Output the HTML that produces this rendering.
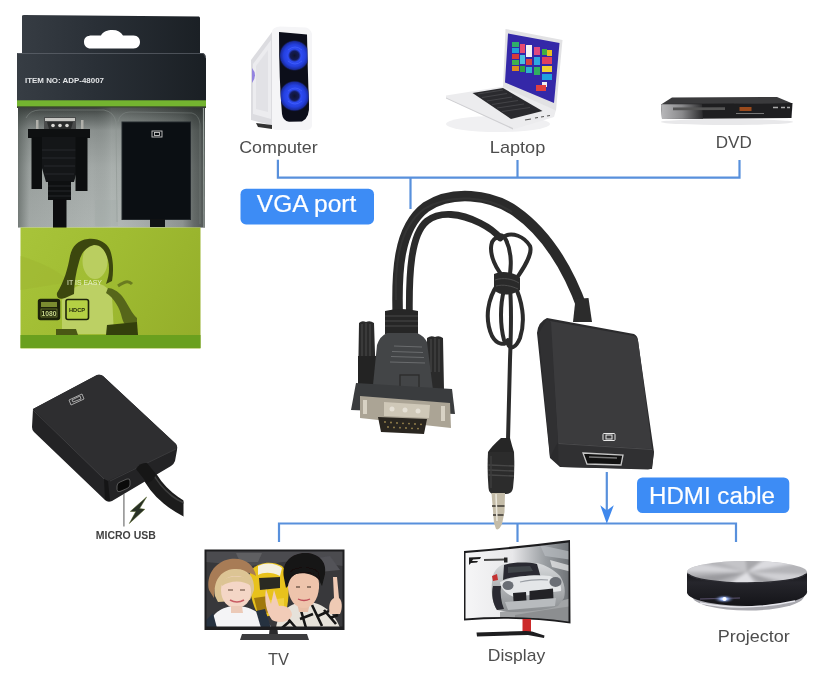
<!DOCTYPE html>
<html><head><meta charset="utf-8"><style>
html,body{margin:0;padding:0;background:#fff;width:834px;height:696px;overflow:hidden}
svg{display:block}
text{font-family:"Liberation Sans",sans-serif}
svg{will-change:transform}
</style></head><body>
<svg width="834" height="696" viewBox="0 0 834 696">
<defs>
<linearGradient id="pkgdark" gradientUnits="userSpaceOnUse" x1="17" y1="0" x2="206" y2="0">
<stop offset="0" stop-color="#373d44"/><stop offset="0.4" stop-color="#2a3037"/><stop offset="1" stop-color="#1a1f24"/>
</linearGradient>
<linearGradient id="blister" gradientUnits="userSpaceOnUse" x1="0" y1="106" x2="0" y2="228">
<stop offset="0" stop-color="#363a38"/><stop offset="0.08" stop-color="#5a605e"/><stop offset="0.2" stop-color="#8a908e"/><stop offset="0.5" stop-color="#a2a8a6"/><stop offset="1" stop-color="#aeb4b2"/>
</linearGradient>
<linearGradient id="blisterh" gradientUnits="userSpaceOnUse" x1="18" y1="0" x2="205" y2="0">
<stop offset="0" stop-color="#3a423e" stop-opacity="0.5"/><stop offset="0.06" stop-color="#3a423e" stop-opacity="0.1"/><stop offset="0.4" stop-color="#3a423e" stop-opacity="0"/><stop offset="0.5" stop-color="#d0d8d4" stop-opacity="0.15"/><stop offset="0.88" stop-color="#2a302e" stop-opacity="0.25"/><stop offset="0.94" stop-color="#2a302e" stop-opacity="0.55"/><stop offset="1" stop-color="#2a302e" stop-opacity="0.7"/>
</linearGradient>
<linearGradient id="greenband" gradientUnits="userSpaceOnUse" x1="20" y1="228" x2="200" y2="335">
<stop offset="0" stop-color="#a8c43a"/><stop offset="0.45" stop-color="#a0bc32"/><stop offset="1" stop-color="#94ae2a"/>
</linearGradient>
</defs>

<!-- ===== PACKAGE BOX ===== -->
<g id="box">
<!-- hanger -->
<path d="M22,16 Q22,15 24,15 L199,16.5 Q200,17 200,18 L200,56 L22,56 Z" fill="url(#pkgdark)"/>
<path d="M84,42 C84,37.5 87,35.5 92,35.5 L101,35.5 C103,31.5 107.5,30 112.5,30 C117.5,30 121,32 123,35.5 L133.5,35.5 C138,35.5 140,38.5 140,42 C140,45.5 138,48.5 133.5,48.5 L90.5,48.5 C87,48.5 84,46 84,42 Z" fill="#fff"/>
<!-- body top dark -->
<path d="M17,53 L203,53 Q206,54 206,59 L206,102 L17,102 Z" fill="url(#pkgdark)"/>
<path d="M17.5,53.5 L203,53.5 Q205.5,54.5 205.5,58" stroke="#6a7078" stroke-width="1" fill="none" opacity="0.6"/>
<!-- green stripe -->
<rect x="17" y="106" width="189" height="2" fill="#3a4a2c"/>
<rect x="17" y="100.3" width="189" height="6" fill="#74b430"/>
<!-- blister area -->
<rect x="18" y="107.5" width="187" height="120" fill="url(#blister)"/>
<rect x="18" y="107.5" width="187" height="120" fill="url(#blisterh)"/>
<path d="M26,118 Q30,110 40,110 L104,110 Q114,112 116,122 L117,222" fill="none" stroke="#8a928e" stroke-width="1" opacity="0.5"/>
<path d="M118,122 Q120,112 130,112 L192,113 Q199,115 200,124 L200,224" fill="none" stroke="#8a928e" stroke-width="1" opacity="0.4"/>
<path d="M203.5,108 L204,227" stroke="#9aa29e" stroke-width="1.2"/>
<path d="M95,200 L118,200 L118,226 L95,226 Z" fill="#a0a8a4" opacity="0.3"/>
<!-- VGA in package (upside down) -->
<path d="M44,117 L76,117 L76,131 L44,131 Z" fill="#4a4c4c"/>
<path d="M45,118 L75,118 L75,121 L45,121 Z" fill="#c8c8c4"/>
<path d="M47,122 L73,122 L71,129 L49,129 Z" fill="#2a2c2c"/>
<circle cx="53" cy="125.5" r="1.8" fill="#d8d8d4"/><circle cx="60" cy="125.5" r="1.8" fill="#d8d8d4"/><circle cx="67" cy="125.5" r="1.8" fill="#d8d8d4"/>
<rect x="36" y="120" width="2.5" height="11" fill="#b0b0aa"/><rect x="81" y="120" width="2.5" height="11" fill="#b0b0aa"/>
<path d="M28,129 L90,129 L90,138 L28,138 Z" fill="#0e1011"/>
<path d="M33,137 L86,137 L74,182 L46,182 Z" fill="#141618"/>
<path d="M40,150 L79,150 M42,158 L77,158 M44,166 L75,166 M45,174 L74,174" stroke="#26292c" stroke-width="1.2"/>
<rect x="31.5" y="137" width="10.5" height="52" fill="#0c0e0f"/>
<rect x="75.5" y="137" width="12" height="54" fill="#0c0e0f"/>
<rect x="48" y="181" width="23" height="19" fill="#0e1011"/>
<path d="M48,186 L71,186 M48,191 L71,191 M48,196 L71,196" stroke="#24272a" stroke-width="1"/>
<rect x="53" y="199" width="13.5" height="29" fill="#0c0c0e"/>
<!-- HDMI box in package -->
<rect x="122" y="122" width="68.5" height="97.5" fill="#0b0f13"/>
<rect x="122" y="122" width="68.5" height="97.5" fill="none" stroke="#23282c" stroke-width="1"/>
<g fill="none" stroke="#c8c8c8" stroke-width="0.9"><rect x="152" y="131" width="10" height="6"/><rect x="154.5" y="132.5" width="5" height="3"/></g>
<rect x="150" y="219" width="15" height="8" fill="#101214"/>
<!-- green lower -->
<rect x="20.5" y="227.5" width="180" height="121" fill="url(#greenband)"/>
<rect x="20.5" y="335" width="180" height="13" fill="#6aa01e"/>
<!-- lady -->
<g id="lady">
<path d="M20.5,256 C40,262 58,270 70,282 L20.5,290 Z" fill="#9db330" opacity="0.45"/>
<path d="M62,300 C66,290 78,284 92,283 C104,283 110,289 112,296 L114,334 L62,334 Z" fill="#bcd064"/>
<ellipse cx="95" cy="261" rx="12.5" ry="18" fill="#bace60"/>
<path d="M88,239 C78,240 72,246 70,256 C68,268 64,282 57,293 C56,298 60,300 65,298 L74,294 C74,284 76,272 79,262 C81,253 86,247 94,245 C102,245 106,252 108,260 C110,268 109,276 106,284 L112,281 C114,270 113,258 110,250 C106,242 98,238 88,239 Z" fill="#3c470e"/>
<path d="M106,293 C114,298 120,308 122,318 C124,326 130,330 137,328 L137,318 C132,314 128,304 122,296 C118,291 112,288 108,288 Z" fill="#56661a"/>
<path d="M107,325 L137,322 L138,335 L106,335 Z" fill="#34400c"/>
<path d="M56,329 L76,329 L78,335 L56,335 Z" fill="#4a5814"/>
<path d="M118,286 C124,282 128,280 132,284" stroke="#6a7c20" stroke-width="3" fill="none"/>
</g>
<text x="67" y="285" font-size="6.5" fill="#e6eec8" textLength="35" lengthAdjust="spacingAndGlyphs">IT IS EASY</text>
<!-- logos -->
<rect x="38.5" y="299.5" width="21" height="20" rx="2" fill="#1e240a" stroke="#1e240a" stroke-width="1.4"/>
<rect x="41" y="302" width="16" height="5" fill="#7a8c30"/>
<rect x="41" y="309" width="16" height="8" fill="#1e240a" stroke="#8a9c40" stroke-width="0.6"/>
<text x="41.5" y="316" font-size="7.5" font-weight="bold" fill="#c8d88a" textLength="15" lengthAdjust="spacingAndGlyphs">1080</text>
<rect x="66" y="299.5" width="22.5" height="20" rx="2" fill="#b4d044" stroke="#1e240a" stroke-width="1.6"/>
<text x="69" y="312" font-size="5.5" font-weight="bold" fill="#1e240a" textLength="16" lengthAdjust="spacingAndGlyphs">HDCP</text>
<!-- item text -->
<text x="25" y="83.2" font-size="8" font-weight="bold" fill="#e4e6e8" textLength="79" lengthAdjust="spacingAndGlyphs">ITEM NO: ADP-48007</text>
</g>

<!-- ===== BLUE LINES ===== -->
<g stroke="#5890dc" stroke-width="2.2" fill="none">
<path d="M277.9,159.7 V177.6 H739.5 V160"/>
<path d="M517.5,160 V177.5"/>
<path d="M410.5,177.5 V209"/>
<path d="M279,542 V523.5 H736 V542"/>
<path d="M517.5,523.5 V542"/>
<path d="M606.8,472 V512"/>
</g>
<path d="M600.3,505.3 L606.8,523.8 L613.8,505.3 L606.8,510.5 Z" fill="#3f88ec"/>

<!-- ===== MAIN CABLE PRODUCT ===== -->
<g id="product">
<!-- thick cable -->
<path d="M398,322 C396,272 398,228 426,207 C452,190 490,194 515,211 C545,232 568,268 583,310" fill="none" stroke="#2a2a2a" stroke-width="10.5" stroke-linecap="round"/>
<path d="M396,300 C395,262 399,228 424,209 C450,193 488,196 512,212" fill="none" stroke="#3a3a3a" stroke-width="2" opacity="0.6"/>
<!-- thin cable -->
<path d="M409.5,322 C408.5,272 411,234 427,221 C440,211 460,213 480,223 C490,228 496,233 500,238" fill="none" stroke="#2a2a2a" stroke-width="6.8" stroke-linecap="round"/>
<!-- loops & knot -->
<g fill="none" stroke="#2b2b2b" stroke-width="4" stroke-linecap="round">
<path d="M500,238 C490,236 489,250 494,262 C498,272 504,278 508,282"/>
<path d="M508,282 C512,270 512,252 506,240 C503,234 498,234 496,238"/>
<path d="M505,236 C512,232 524,236 530,246 C533,254 524,268 514,282"/>
<path d="M498,284 C488,298 484,318 492,336 C497,345 505,346 508,340"/>
<path d="M514,284 C522,300 526,320 520,338 C516,348 510,350 508,344"/>
<path d="M504,290 C500,305 500,325 504,340"/>
<path d="M510,288 C512,310 511,330 510,360 L508,440"/>
</g>
<path d="M494,274 C502,270 514,272 520,278 L520,290 C512,296 500,296 494,290 Z" fill="#2a2a2a"/>
<path d="M495,280 C503,277 513,279 519,283 M496,286 C503,284 512,286 518,289" stroke="#555" stroke-width="0.8" fill="none"/>

<!-- HDMI adapter box -->
<path d="M575.5,299 L588.5,298 L592,322 L573,322 Z" fill="#2c2c2c"/>
<path d="M547,318 L634,334 Q638,336 638,341 L654,452 L652,469 L560,467 L550,458 L537,333 Q538,322 547,318 Z" fill="#2b2b2d"/>
<path d="M550,321 L634,336 Q638,337.5 638.3,342 L652,449 L558,443 Z" fill="#3b3b3d"/>
<path d="M547,319 L551,322 L558,442 L550,457 L539,333 Z" fill="#303032"/>
<path d="M558,443 L652,449 Q654,451 653.5,455 L652,467 Q651,469.5 648,469.5 L562,467 Q559,466 558.5,463 Z" fill="#303032"/>
<path d="M558.5,443.5 L652,449.5" stroke="#4a4a4c" stroke-width="1"/>
<path d="M583,453 L623,455 L621,465 L587,464 Z" fill="#111" stroke="#c8c8c8" stroke-width="1.3"/>
<path d="M589,457 L617,458" stroke="#777" stroke-width="1.5"/>
<g fill="none" stroke="#e8e8e8" stroke-width="1">
<rect x="603" y="433.5" width="12" height="7" rx="1"/>
<rect x="606" y="435" width="6" height="4"/>
</g>

<!-- VGA connector -->
<g id="vga">
<!-- thumbscrews -->
<path d="M359,323 Q362,320 366,322 Q370,320 374,323 L376,384 L358,384 Z" fill="#2a2a2a"/>
<path d="M362,324 L362,356 M366,323 L366,356 M370,324 L370,356" stroke="#474747" stroke-width="1.2"/>
<path d="M358,356 L376,356 L376,386 L358,386 Z" fill="#232323"/>
<path d="M427,338 Q431,335 435,337 Q439,335 443,338 L444,390 L427,390 Z" fill="#2a2a2a"/>
<path d="M431,339 L431,372 M435,338 L435,372 M439,339 L439,372" stroke="#474747" stroke-width="1.2"/>
<!-- strain relief -->
<path d="M385,311 Q401,307 418,311 L418,334 L385,334 Z" fill="#262626"/>
<path d="M385,316 L418,316 M385,321 L418,321 M385,326 L418,326" stroke="#3e3e3e" stroke-width="1.6"/>
<!-- hood -->
<path d="M387,333 L417,333 Q424,336 427,342 L433,390 L373,385 L377,345 Q380,336 387,333 Z" fill="#434547"/>
<path d="M394,346 L422,347 M392,351.5 L423,352.5 M391,356.5 L424,357.5 M390,362 L425,363" stroke="#6a6c6e" stroke-width="1"/>
<rect x="400" y="375" width="19" height="15" fill="none" stroke="#2c2c2c" stroke-width="1.3"/>
<!-- base flange -->
<path d="M356,383 L452,389 L455,414 L351,410 Z" fill="#3a3c3e"/>
<!-- metal plate -->
<path d="M360,396 L450,403 L451,428 L360,418 Z" fill="#aba495"/>
<path d="M384,402 L430,405 L429,418 L384,416 Z" fill="#cfc8b8"/>
<circle cx="392" cy="409" r="2.5" fill="#e6e1d6"/><circle cx="405" cy="410" r="2.5" fill="#e6e1d6"/><circle cx="418" cy="411" r="2.5" fill="#e6e1d6"/>
<!-- d-sub -->
<path d="M378,417 L427,419 L424,434 L381,432 Z" fill="#2a2620"/>
<g fill="#a08a50"><circle cx="385" cy="422" r="0.9"/><circle cx="391" cy="422.5" r="0.9"/><circle cx="397" cy="423" r="0.9"/><circle cx="403" cy="423.3" r="0.9"/><circle cx="409" cy="423.6" r="0.9"/><circle cx="415" cy="424" r="0.9"/><circle cx="421" cy="424.3" r="0.9"/>
<circle cx="388" cy="427" r="0.9"/><circle cx="394" cy="427.4" r="0.9"/><circle cx="400" cy="427.7" r="0.9"/><circle cx="406" cy="428" r="0.9"/><circle cx="412" cy="428.3" r="0.9"/><circle cx="418" cy="428.6" r="0.9"/></g>
<!-- screw posts -->
<rect x="363" y="400" width="4" height="14" fill="#d8d2c4"/>
<rect x="441" y="406" width="4" height="15" fill="#d8d2c4"/>
</g>

<!-- Audio jack -->
<g id="jack">
<path d="M501,438 L510,438 Q512,446 514,452 L488,452 Q492,446 501,438 Z" fill="#262626"/>
<path d="M488,452 L514,452 Q515,472 513,488 Q512,494 506,494 L494,494 Q489,494 488.5,488 Q487,470 488,452 Z" fill="#2c2c2c"/>
<path d="M488.5,465 L514,466 M488.5,470 L514,471 M488.5,475 L514,476" stroke="#474747" stroke-width="1.4"/>
<path d="M491,456 L491,488" stroke="#3c3c3c" stroke-width="1.5"/>
<path d="M491.5,493 L505,493 L504.5,512 L502,524 Q499,531 496,529 L494,523 Z" fill="#c4bca8"/>
<path d="M492,506 L504.5,506 M493,515 L503.5,515" stroke="#3a3630" stroke-width="1.6"/>
<path d="M496,494 L497,521" stroke="#ece8dd" stroke-width="1.5"/>
</g>
</g>

<!-- ===== COMPUTER ===== -->
<g id="pc">
<defs>
<radialGradient id="fan" cx="0.5" cy="0.5" r="0.5"><stop offset="0" stop-color="#10142c"/><stop offset="0.28" stop-color="#141c58"/><stop offset="0.42" stop-color="#2e4cf4"/><stop offset="0.7" stop-color="#2440e0"/><stop offset="0.9" stop-color="#1a2ca0"/><stop offset="1" stop-color="#101430" stop-opacity="0.3"/></radialGradient>
</defs>
<path d="M251,60 L272,32 L274,32 L274,126 L251,120 Z" fill="#dcdce0"/>
<path d="M253,64 L271,40 L271,119 L253,114 Z" fill="#ececef"/>
<path d="M256,66 L268,50 L268,112 L256,109 Z" fill="#e2e2e6"/>
<path d="M252,68 Q258,75 252,83 Z" fill="#9484e0"/>
<path d="M272,31 Q273,27 280,26.5 L306,27.5 Q311,29 312,34 L312,126 Q311,130 306,130 L277,130 Q272,130 272,126 Z" fill="#f5f5f7"/>
<path d="M279,32 L307,34.5 Q308,80 309,104 Q310,118 302,121.5 L289,121.7 Q283,121 282,114 Q279,80 279,32 Z" fill="#0c0e1a"/>
<clipPath id="glassclip"><path d="M279,32 L307,34.5 Q308,80 309,104 Q310,118 302,121.5 L289,121.7 Q283,121 282,114 Q279,80 279,32 Z"/></clipPath>
<g clip-path="url(#glassclip)"><circle cx="294.5" cy="55.5" r="15.5" fill="url(#fan)"/>
<circle cx="294.5" cy="96" r="15.5" fill="url(#fan)"/></g>
<path d="M288,50 Q295,44 302,50 M302,61 Q295,67 288,61" stroke="#4a66ff" stroke-width="1" fill="none" opacity="0.6"/>
<path d="M288,91 Q295,85 302,91 M302,101 Q295,107 288,101" stroke="#4a66ff" stroke-width="1" fill="none" opacity="0.6"/>
<path d="M256,123 L272,125 L272,129 L258,127 Z" fill="#333"/>
</g>

<!-- ===== LAPTOP ===== -->
<g id="laptop">
<ellipse cx="498" cy="124" rx="52" ry="8" fill="#f0f0f2"/>
<path d="M446,95.5 L503,86.5 L556,110 L554,117 L513,129.5 L446,98 Z" fill="#ececee"/>
<path d="M446,97.5 L513,128 L513,129.5 L446,98.5 Z" fill="#cfcfd2"/>
<path d="M472.5,93 L503,88 L542.5,111 L511,119 Z" fill="#2a2a2e"/>
<path d="M478,94 L503,90 M482,97.5 L507,93.5 M487,101 L512,97 M492,104.5 L518,100.5 M497,108 L524,104 M502,111.5 L530,107.5" stroke="#4a4a4e" stroke-width="0.8"/>
<path d="M505.5,29 L562.5,40 L556,110.5 L503,87 Z" fill="#e2e2e4"/>
<path d="M508,33.5 L559.5,43 L554,103 L505,82.5 Z" fill="#3428a8"/>
<g>
<rect x="512" y="42" width="7" height="5" fill="#2fb06a"/><rect x="512" y="48" width="7" height="5" fill="#22a0d8"/><rect x="512" y="54" width="7" height="5" fill="#d83a3a"/><rect x="512" y="60" width="7" height="5" fill="#40b050"/><rect x="512" y="66" width="7" height="5" fill="#e08a20"/>
<rect x="520" y="44" width="5" height="9" fill="#e84a70"/><rect x="520" y="55" width="5" height="9" fill="#4ac0e0"/><rect x="520" y="66" width="5" height="6" fill="#30a040"/>
<rect x="526" y="45" width="6" height="12" fill="#f4f4f4"/><rect x="526" y="59" width="6" height="6" fill="#d84040"/><rect x="526" y="67" width="6" height="6" fill="#30b0d0"/>
<rect x="534" y="47" width="6" height="8" fill="#e04a80"/><rect x="534" y="57" width="6" height="8" fill="#30a8e0"/><rect x="534" y="67" width="6" height="8" fill="#30b060"/>
<rect x="542" y="49" width="5" height="6" fill="#40b040"/><rect x="547" y="50" width="5" height="6" fill="#e8c020"/><rect x="542" y="57" width="10" height="7" fill="#e04060"/><rect x="542" y="66" width="10" height="6" fill="#f0d030"/><rect x="542" y="74" width="10" height="6" fill="#20a0e0"/><rect x="542" y="82" width="5" height="5" fill="#f0f0f0"/><rect x="536" y="85" width="10" height="6" fill="#e04040"/>
</g>
<path d="M525,120 L531,119 M535,118 L538,117.5 M541,117 L544,116.5 M547,116 L550,115.5" stroke="#555" stroke-width="1.2"/>
</g>

<!-- ===== DVD ===== -->
<g id="dvd">
<ellipse cx="727" cy="122" rx="66" ry="3" fill="#e8e8ea"/>
<path d="M672,97.5 L777,97 L792.5,103.5 L661,104.5 Z" fill="#3a3a3c"/>
<path d="M661,104 L792.5,103 L791.5,118 L662,119 Z" fill="#1e1e20"/>
<defs><linearGradient id="dvdl" x1="0" x2="1"><stop offset="0" stop-color="#b8b8ba"/><stop offset="0.5" stop-color="#8a8a8c"/><stop offset="1" stop-color="#2a2a2c"/></linearGradient></defs>
<path d="M661,104.3 L702,104.2 L703,118.7 L662,119 Z" fill="url(#dvdl)"/>
<path d="M673,107.5 L725,107.2 L725,110 L673,110.3 Z" fill="#555"/>
<rect x="739.5" y="107" width="12" height="4" fill="#9a4a1c"/>
<path d="M773,107.5 L778,107.5 M781,107.5 L785,107.5 M787,107.5 L790,107.5" stroke="#aaa" stroke-width="1.3"/>
<path d="M736,113.5 L764,113.5" stroke="#777" stroke-width="1"/>
</g>

<!-- ===== TV ===== -->
<g id="tv">
<rect x="204.5" y="549.5" width="140" height="80.5" fill="#1e1e20"/>
<clipPath id="tvclip"><rect x="206.5" y="551.5" width="136" height="75"/></clipPath>
<g clip-path="url(#tvclip)"><g filter="url(#soft06)">
<rect x="206" y="551" width="137" height="76" fill="#38383a"/>
<path d="M206,551 L343,551 L343,566 L300,560 L250,566 L206,562 Z" fill="#4c4c50"/>
<path d="M236,553 L262,553 L258,562 L240,562 Z" fill="#6a6a6e" opacity="0.6"/>
<path d="M306,560 L330,556 L340,570 L320,572 Z" fill="#525258"/>
<!-- car yellow -->
<path d="M250,572 C256,562 272,560 282,566 C290,574 290,596 286,612 L260,618 C252,606 248,588 250,572 Z" fill="#e8c21e"/>
<path d="M258,566 C266,562 276,563 282,568 L280,576 C272,572 264,572 258,575 Z" fill="#f4f0e0"/>
<path d="M259,578 L280,577 L280,588 L260,590 Z" fill="#2c2a22"/>
<path d="M254,598 L268,596 L272,612 L258,614 Z" fill="#a07810"/>
<path d="M270,600 L284,598 L284,610 L272,612 Z" fill="#f2d040"/>
<!-- left person -->
<path d="M208,628 C210,614 222,606 236,606 C252,606 262,614 272,628 Z" fill="#f4f4f6"/>
<path d="M256,611 L265,609 L271,628 L261,628 Z" fill="#283040"/>
<path d="M206,620 L213,613 L217,628 L206,628 Z" fill="#283040"/>
<path d="M209,590 C206,576 214,562 230,559 C244,557 254,564 256,576 C250,572 238,570 226,574 C218,578 214,586 214,598 Z" fill="#a87c56"/>
<path d="M215,596 C213,582 220,570 234,569 C247,568 255,576 254,590 L250,600 L218,602 Z" fill="#dcc494"/>
<path d="M221,590 C221,580 228,576 236,576 C245,576 251,582 251,592 C251,601 245,608 236,608 C228,608 221,601 221,590 Z" fill="#f4d6c6"/>
<path d="M221,582 C226,576 240,574 250,580 L251,586 C244,580 230,580 222,586 Z" fill="#dcc494"/>
<path d="M230,600 Q237,604 244,600" stroke="#c85c64" stroke-width="1.6" fill="none"/>
<path d="M228,590 L233,590 M240,590 L245,590" stroke="#5a4030" stroke-width="1"/>
<path d="M231,606 L242,606 L243,613 L231,613 Z" fill="#eccab8"/>
<!-- right person -->
<path d="M276,628 C278,612 290,602 306,602 C322,602 334,612 340,628 Z" fill="#e6e2da"/>
<path d="M284,614 L296,628 M300,607 L306,628 M312,605 L322,626 M324,610 L336,624 M290,621 L282,628 M318,616 L329,611 M300,619 L313,614 M330,618 L338,615" stroke="#141414" stroke-width="2.6"/>
<path d="M297,602 L310,602 L308,612 L299,612 Z" fill="#e8bea6"/>
<path d="M288,588 C287,576 294,568 304,568 C314,568 320,576 319,588 C318,600 312,608 304,608 C295,608 289,600 288,588 Z" fill="#eec4ac"/>
<path d="M284,578 C281,562 292,553 305,553 C318,553 327,561 325,574 L322,586 L319,580 C314,574 304,572 296,574 C292,576 289,580 288,586 L286,588 Z" fill="#161212"/>
<path d="M290,578 C296,572 306,571 314,574 L320,580 L318,572 C312,566 296,566 290,572 Z" fill="#161212"/>
<path d="M298,599 Q304,602 310,599" stroke="#c0505a" stroke-width="1.3" fill="none"/>
<path d="M296,587 L300,587 M307,587 L311,587" stroke="#3a2a20" stroke-width="1"/>
<!-- peace hand -->
<path d="M266,589 L271,604 L274,590 L279,606 C286,605 292,609 292,615 C290,622 280,624 272,620 C266,612 264,600 266,589 Z" fill="#f2ccb8"/>
<!-- index finger -->
<path d="M333,577 L337,577 L339,598 C342,600 343,608 340,614 L330,614 C328,606 330,600 334,598 Z" fill="#efcab4"/>
</g></g>
<path d="M269.5,630 L277.5,630 L278,634.5 L269,634.5 Z" fill="#2a2a2c"/>
<path d="M242,634 L307,634 L309,640 L240,640 Z" fill="#3c3c3e"/>
</g>

<!-- ===== DISPLAY ===== -->
<g id="display">
<defs>
<linearGradient id="dispbg" x1="0" x2="1" y1="0" y2="0"><stop offset="0" stop-color="#f6f6f7"/><stop offset="0.45" stop-color="#e8e8ea"/><stop offset="0.75" stop-color="#9a9ea2"/><stop offset="1" stop-color="#6a6e72"/></linearGradient>
<linearGradient id="carbody" x1="0" x2="0" y1="0" y2="1"><stop offset="0" stop-color="#d8dadc"/><stop offset="0.5" stop-color="#b0b3b6"/><stop offset="1" stop-color="#8a8d90"/></linearGradient>
</defs>
<path d="M464,551 Q516,547 570,540 L570.5,623.5 Q516,616 464,620.5 Z" fill="#1c1c1e"/>
<clipPath id="dclip"><path d="M465.5,553 Q516,549 568.5,542.5 L568.5,621.5 Q516,614.5 465.5,618.5 Z"/></clipPath>
<g clip-path="url(#dclip)"><g filter="url(#soft06)">
<rect x="464" y="540" width="108" height="84" fill="url(#dispbg)"/>
<path d="M540,545 L572,552 L572,560 L545,556 Z" fill="#b8bcc0" opacity="0.7"/>
<path d="M550,560 L572,566 L572,572 L552,567 Z" fill="#ffffff" opacity="0.6"/>
<path d="M500,612 L540,606 L572,598 L572,624 L500,624 Z" fill="#a2a4a6"/>
<path d="M515,615 L545,610 L572,606 L572,624 L515,624 Z" fill="#8c8e90"/>
<!-- car -->
<path d="M492,582 C492,572 498,566 504,564 L537,563 C546,565 554,570 560,576 C564,582 566,590 564,598 L558,606 C546,610 528,612 510,612 L497,610 C492,602 491,592 492,582 Z" fill="url(#carbody)"/>
<path d="M504,565 C512,562 528,562 537,564 L541,578 C528,575 514,576 503,580 Z" fill="#2a2c30"/>
<path d="M508,567 L530,566 L533,571 L508,573 Z" fill="#4a4e56" opacity="0.7"/>
<path d="M500,582 C512,577 532,574 550,576 C558,579 562,585 561,591 L514,597 C506,594 501,589 500,582 Z" fill="#e4e6e8"/>
<path d="M520,582 C530,580 540,579 548,580" stroke="#9a9ea4" stroke-width="1.2" fill="none"/>
<ellipse cx="508" cy="585.5" rx="5.5" ry="4.5" fill="#6a6e74"/>
<ellipse cx="555.5" cy="582" rx="6" ry="5" fill="#6a6e74"/>
<path d="M513,593 L526,592 L526.5,601 L513.5,601.5 Z" fill="#222428"/>
<path d="M529.5,591 L553,588.5 L553.5,599 L529.5,600.5 Z" fill="#222428"/>
<path d="M505,602 L556,598 L555,606 L508,610 Z" fill="#b8bbbe"/>
<path d="M493,586 C491,594 493,604 497,610 L504,609 C501,602 500,593 501,586 Z" fill="#2a2c30"/>
<path d="M492,576 L497,574 L498,580 L493,581 Z" fill="#c43030"/>
<path d="M469,557.5 L481,557 L480,559 L473,559.5 L472,561 L478,561 L477,562.5 L471,563 L469,565 Z" fill="#1a1a1a"/>
<path d="M484,560 L505,559.5" stroke="#4a4a4a" stroke-width="2.2"/>
<rect x="504" y="557.5" width="3.5" height="5" fill="#222"/>
</g></g>
<path d="M522.5,619 L531,619 L531,633 L522.5,633 Z" fill="#cc2a2a"/>
<path d="M476.5,632.5 L526,631 L532,631.5 L544.5,635.5 L544,638 L528,635 L477,636.5 Z" fill="#1e1e20"/>
</g>

<!-- ===== PROJECTOR ===== -->
<g id="projector">
<defs>
<radialGradient id="projlight" cx="0.5" cy="0.5" r="0.5"><stop offset="0" stop-color="#ffffff"/><stop offset="0.3" stop-color="#9ab8ff"/><stop offset="1" stop-color="#1a1a22" stop-opacity="0"/></radialGradient>
<linearGradient id="projband" x1="0" x2="0" y1="0" y2="1"><stop offset="0" stop-color="#101014"/><stop offset="0.3" stop-color="#26262c"/><stop offset="1" stop-color="#141418"/></linearGradient>
<clipPath id="projclip"><ellipse cx="747" cy="572" rx="60" ry="11"/></clipPath>
<filter id="soft" x="-10%" y="-10%" width="120%" height="120%"><feGaussianBlur stdDeviation="1.6"/></filter>
<filter id="soft06" x="-5%" y="-5%" width="110%" height="110%"><feGaussianBlur stdDeviation="0.5"/></filter>
</defs>
<ellipse cx="748" cy="596" rx="56" ry="14.5" fill="#a8a8ae"/>
<path d="M687,572 L687,593 A60,14 0 0 0 807,591 L807,572 Z" fill="url(#projband)"/>
<path d="M700,603 Q745,612 795,601" stroke="#e8e8ee" stroke-width="1.3" fill="none"/>
<ellipse cx="747" cy="572" rx="60" ry="11" fill="#b4b4b8"/>
<g clip-path="url(#projclip)"><g filter="url(#soft)">
<path d="M747,572 L680,560 L680,572 Z" fill="#d4d4d8"/>
<path d="M747,572 L700,555 L745,555 Z" fill="#c4c4c8"/>
<path d="M747,572 L770,555 L815,560 Z" fill="#dcdce0"/>
<path d="M747,572 L815,575 L815,590 Z" fill="#d0d0d4"/>
<path d="M747,572 L760,590 L720,590 Z" fill="#e0e0e4"/>
<path d="M747,572 L680,578 L690,590 Z" fill="#9a9a9e"/>
<path d="M747,572 L800,590 L770,590 Z" fill="#a0a0a4"/>
<path d="M747,572 L745,555 L770,555 Z" fill="#a8a8ac"/>
</g></g>
<path d="M688,574 A60,11 0 0 0 806,574" stroke="#2a2a30" stroke-width="1.5" fill="none"/>
<path d="M700,599 L740,598" stroke="#8a7aa8" stroke-width="1.2" opacity="0.6"/>
<ellipse cx="724" cy="599" rx="11" ry="4.5" fill="url(#projlight)"/>
<circle cx="724.5" cy="599" r="2" fill="#fff"/>
</g>

<!-- ===== MICRO USB ADAPTER ===== -->
<g id="musb">
<clipPath id="musbclip"><rect x="0" y="0" width="183.5" height="696"/></clipPath>
<g clip-path="url(#musbclip)"><path d="M145,468 C150,478 158,490 168,498 C174,503 180,507 190,512" fill="none" stroke="#1c1c1c" stroke-width="14" stroke-linecap="butt"/>
<path d="M151,470 C156,480 163,489 172,496 C177,500 182,502 186,504" fill="none" stroke="#3e3e3e" stroke-width="1.6"/></g>
<!-- body -->
<path d="M33,409 L97,375 Q100,374 103,376 L176,444 Q178,447 177,450 L175,461 Q174,464 171,466 L112,501 Q108,503 105,500 L34,432 Q32,430 32,427 Z" fill="#232325"/>
<path d="M33,409 L97,375 Q100,374 103,376 L176,444 Q178,447 175,450 L110,480 Q107,482 104,479 Z" fill="#2e2e30"/>
<path d="M104,479 L108,481 L110,501 L105,500 Z" fill="#151516"/>
<path d="M33,410 L104,479" stroke="#3e3e40" stroke-width="1"/>
<path d="M110,481 L176,449" stroke="#3a3a3c" stroke-width="1"/>
<!-- port -->
<path d="M117,486 Q117,483 120,482 L127,479 Q130,478 130,481 L130,485 Q130,487 127,488.5 L120,491.5 Q117,492.5 117,489.5 Z" fill="#0a0a0a" stroke="#6a6a6a" stroke-width="0.8"/>
<!-- cable strain -->
<path d="M136,469 Q140,462 147,463 L156,474 Q154,481 147,483 Z" fill="#161616"/>
<!-- hdmi icon -->
<g fill="none" stroke="#a8a8a8" stroke-width="1"><path d="M69,400 L82,394 L84,399 L71,405 Z"/><path d="M72,400 L80,396 L81,399 L73,402 Z"/></g>
</g>
</g>
<line x1="123.9" y1="494" x2="123.9" y2="526.5" stroke="#858585" stroke-width="1.4"/>
<path d="M146.6,497 L130.3,511.4 L135.8,511.6 L129.3,523.5 L144.8,509.3 L139.6,508.6 Z" fill="#283026" stroke="#4a5a1c" stroke-width="0.5"/>

<!-- ===== LABELS ===== -->
<rect x="240.5" y="188.7" width="133.5" height="35.7" rx="5.5" fill="#3d8cf5"/>
<text x="256.8" y="212" font-size="23.3" fill="#fff" stroke="#fff" stroke-width="0.2" textLength="99.5" lengthAdjust="spacingAndGlyphs">VGA port</text>
<rect x="637" y="477.5" width="152.3" height="35.6" rx="5.5" fill="#3d8cf5"/>
<text x="649" y="503.7" font-size="23.5" fill="#fff" stroke="#fff" stroke-width="0.2" textLength="126" lengthAdjust="spacingAndGlyphs">HDMI cable</text>

<g fill="#4d4d4d" font-size="17" lengthAdjust="spacingAndGlyphs">
<text x="239.2" y="152.8" textLength="78.5" lengthAdjust="spacingAndGlyphs">Computer</text>
<text x="489.8" y="152.8" textLength="55.5" lengthAdjust="spacingAndGlyphs">Laptop</text>
<text x="715.8" y="147.7" textLength="36" lengthAdjust="spacingAndGlyphs">DVD</text>
<text x="268" y="665" textLength="21" lengthAdjust="spacingAndGlyphs">TV</text>
<text x="487.8" y="660.8" textLength="57.5" lengthAdjust="spacingAndGlyphs">Display</text>
<text x="717.8" y="641.7" textLength="72" lengthAdjust="spacingAndGlyphs">Projector</text>
</g>
<text x="95.8" y="538.7" font-size="10.2" font-weight="bold" fill="#404040" textLength="60" lengthAdjust="spacingAndGlyphs">MICRO USB</text>

</svg>
</body></html>
